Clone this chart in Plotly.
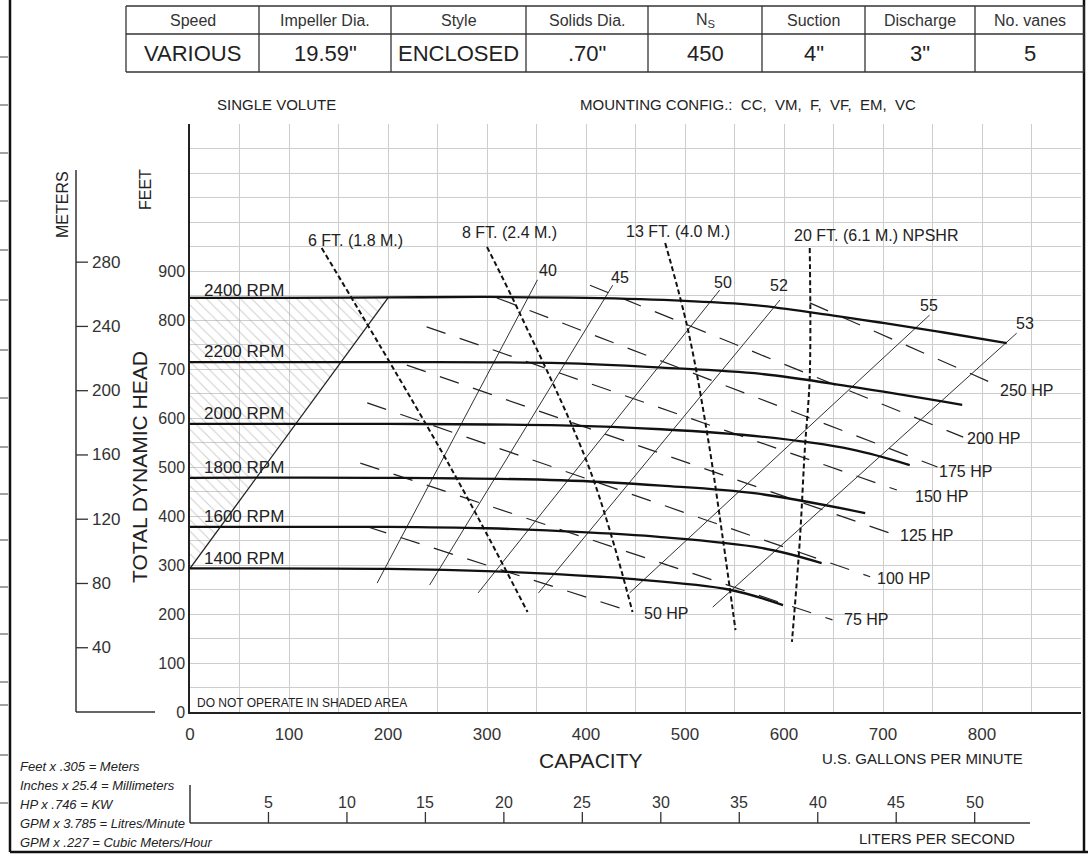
import plotly.graph_objects as go

W, H = 1090, 855
FONT = "Liberation Sans, Arial, sans-serif"


def px(x):
    return x / W


def py(y):
    return 1 - y / H


# ---------------- data ----------------
# Speed (head-capacity) curves: capacity GPM, head FT
q_2400 = [0, 100, 200, 300, 400, 500, 567, 650, 700, 760, 825]
h_2400 = [845, 845, 846, 847, 845, 839, 831, 809, 794, 775, 753]
q_2200 = [0, 200, 375, 476, 577, 668, 780]
h_2200 = [714, 714, 712, 703, 690, 664, 627]
q_2000 = [0, 200, 375, 476, 577, 668, 727]
h_2000 = [588, 588, 585, 577, 562, 536, 504]
q_1800 = [0, 200, 375, 476, 572, 682]
h_1800 = [478, 478, 473, 462, 446, 406]
q_1600 = [0, 200, 300, 375, 476, 577, 638]
h_1600 = [378, 378, 375, 369, 357, 335, 304]
q_1400 = [0, 200, 307, 415, 442, 544, 599]
h_1400 = [293, 292, 287, 276, 272, 250, 218]
speed_labels = ["2400 RPM", "2200 RPM", "2000 RPM", "1800 RPM", "1600 RPM", "1400 RPM"]
speed_label_q = [12, 12, 12, 12, 12, 12]
speed_label_h = [861, 735, 610, 498, 398, 314]

# Minimum-flow line / shaded area
minflow_q = [0, 200]
minflow_h = [293, 845]
shade_q = [0, 0, 200, 0]
shade_h = [293, 845, 845, 293]

# Efficiency lines (%)
eff_labels = ["40", "45", "50", "52", "55", "53"]
eff_q = [[189, 351], [242, 427], [291, 535], [352, 596], [444, 747], [528, 835]]
eff_h = [[263, 882], [259, 871], [243, 861], [243, 841], [243, 810], [214, 773]]
eff_label_q = [362, 434, 538, 595, 746, 843]
eff_label_h = [902, 886, 876, 871, 829, 792]

# Horsepower lines
hp_labels = ["250 HP", "200 HP", "175 HP", "150 HP", "125 HP", "100 HP", "75 HP", "50 HP"]
hp_q = [[626, 815], [404, 781], [310, 755], [239, 714], [219, 707], [179, 687], [172, 649], [179, 447]]
hp_h = [[835, 667], [871, 561], [845, 500], [786, 453], [708, 365], [631, 276], [508, 188], [378, 204]]
hp_label_q = [816, 783, 755, 730, 715, 692, 659, 457]
hp_label_h = [657, 559, 490, 439, 361, 273, 188, 202]

# NPSHR lines
npsh_labels = ["6 FT. (1.8 M.)", "8 FT. (2.4 M.)", "13 FT. (4.0 M.)", "20 FT. (6.1 M.) NPSHR"]
npsh_q = [[133, 263, 341], [300, 333, 404, 447], [480, 503, 523, 538, 551], [626, 626, 621, 616, 608]]
npsh_h = [[947, 500, 204], [949, 814, 494, 204], [957, 780, 561, 357, 167], [947, 684, 535, 351, 143]]
npsh_label_q = [167, 323, 493, 608]
npsh_label_h = [963, 978, 980, 973]

# Axes ticks
gpm_ticks = [0, 100, 200, 300, 400, 500, 600, 700, 800]
feet_ticks = [0, 100, 200, 300, 400, 500, 600, 700, 800, 900]
meter_ticks = [40, 80, 120, 160, 200, 240, 280]
lps_ticks = [5, 10, 15, 20, 25, 30, 35, 40, 45, 50]

# Header table
table_headers = ["Speed", "Impeller Dia.", "Style", "Solids Dia.", "N<sub>S</sub>", "Suction", "Discharge", "No. vanes"]
table_values = ["VARIOUS", '19.59"', "ENCLOSED", '.70"', "450", '4"', '3"', "5"]

notes = ["Feet x .305 = Meters", "Inches x 25.4 = Millimeters", "HP x .746 = KW",
         "GPM x 3.785 = Litres/Minute", "GPM x .227 = Cubic Meters/Hour"]

# ---------------- geometry ----------------
PL, PR, PT, PB = 190, 1081, 124, 712   # plot area in pixels
QMAX, HMAX = 900, 1200
FT_TO_M = 0.305
GPM_TO_LPS = 3.785 / 60.0

fig = go.Figure()

# shaded (do-not-operate) area
fig.add_trace(go.Scatter(
    x=shade_q, y=shade_h, mode="lines", fill="toself",
    line=dict(width=0, color="rgba(0,0,0,0)"),
    fillcolor="rgba(255,255,255,0)",
    fillpattern=dict(shape="\\", fgcolor="#a0a0a0", size=8, solidity=0.13),
    hoverinfo="skip", showlegend=False))

# HP lines
for qs, hs in zip(hp_q, hp_h):
    fig.add_trace(go.Scatter(x=qs, y=hs, mode="lines",
                             line=dict(color="#222", width=1.2, dash="20px,15px"),
                             hoverinfo="skip", showlegend=False))

# efficiency lines
for qs, hs in zip(eff_q, eff_h):
    fig.add_trace(go.Scatter(x=qs, y=hs, mode="lines",
                             line=dict(color="#333", width=1),
                             hoverinfo="skip", showlegend=False))

# min flow line
fig.add_trace(go.Scatter(x=minflow_q, y=minflow_h, mode="lines",
                         line=dict(color="#222", width=1.3),
                         hoverinfo="skip", showlegend=False))

# NPSH lines
for qs, hs in zip(npsh_q, npsh_h):
    fig.add_trace(go.Scatter(x=qs, y=hs, mode="lines", line_shape="spline",
                             line=dict(color="#111", width=2, dash="5px,3px"),
                             hoverinfo="skip", showlegend=False))

# speed curves
for qs, hs in [(q_2400, h_2400), (q_2200, h_2200), (q_2000, h_2000),
               (q_1800, h_1800), (q_1600, h_1600), (q_1400, h_1400)]:
    fig.add_trace(go.Scatter(x=qs, y=hs, mode="lines", line_shape="spline",
                             line=dict(color="#111", width=2.3),
                             hoverinfo="skip", showlegend=False))

GRID = "#cdcdcd"

fig.update_layout(
    width=W, height=H,
    margin=dict(l=0, r=0, t=0, b=0, autoexpand=False),
    paper_bgcolor="white", plot_bgcolor="white",
    font=dict(family=FONT, color="#222"),
    showlegend=False,
    xaxis=dict(domain=[px(PL), px(PR)], range=[0, QMAX], tickvals=gpm_ticks,
               showgrid=True, gridcolor=GRID, gridwidth=1,
               minor=dict(tickmode="linear", tick0=0, dtick=50, showgrid=True,
                          gridcolor=GRID, gridwidth=1),
               showline=True, linecolor="#222", linewidth=1.5, zeroline=False,
               ticks="outside", ticklen=6, tickcolor="rgba(0,0,0,0)",
               automargin=False,
               tickfont=dict(size=17, color="#333")),
    yaxis=dict(domain=[py(PB), py(PT)], range=[0, HMAX], tickvals=feet_ticks,
               showgrid=True, gridcolor=GRID, gridwidth=1,
               minor=dict(tickmode="linear", tick0=0, dtick=50, showgrid=True,
                          gridcolor=GRID, gridwidth=1),
               showline=True, linecolor="#222", linewidth=1.5, zeroline=False,
               ticks="", automargin=False,
               tickfont=dict(size=16, color="#333")),
)

shapes = []


def pline(x0, y0, x1, y1, w=1.5, c="#222"):
    shapes.append(dict(type="line", xref="paper", yref="paper",
                       x0=px(x0), y0=py(y0), x1=px(x1), y1=py(y1),
                       line=dict(color=c, width=w)))


# page frame
pline(10, 0, 10, 852, 2.5, "#111")
pline(10, 852, 1088, 852, 2.5, "#111")
pline(1084, 0, 1084, 852, 2.5, "#111")
for yy in [57, 105, 153, 201, 250, 300, 350, 398, 447, 494, 540, 587, 634, 682, 705, 755, 803]:
    pline(0, yy, 8, yy, 1, "#444")

# meters axis (secondary head scale), ticks placed on the FEET axis scale
pline(76, 170, 76, 712, 1.5, "#333")
pline(76, 712, 155, 712, 1.5, "#333")
for m in meter_ticks:
    shapes.append(dict(type="line", xref="paper", yref="y", x0=px(76), x1=px(88),
                       y0=m / FT_TO_M, y1=m / FT_TO_M, line=dict(color="#333", width=1.3)))

# liters-per-second axis, ticks placed on the GPM axis scale
pline(190, 823, 1030, 823, 1.5, "#333")
pline(190, 785, 190, 823, 1.5, "#333")
for l in lps_ticks:
    shapes.append(dict(type="line", xref="x", yref="paper", x0=l / GPM_TO_LPS,
                       x1=l / GPM_TO_LPS, y0=py(823), y1=py(812),
                       line=dict(color="#333", width=1.3)))

# table
col_x = [126, 259, 391, 526, 648, 762, 865, 975, 1084]
row_y = [6, 34, 72]
for yy in row_y:
    pline(col_x[0], yy, col_x[-1], yy, 1.3, "#333")
for xx in col_x:
    pline(xx, row_y[0], xx, row_y[-1], 1.3, "#333")

fig.update_layout(shapes=shapes)

ann = []


def ptext(x, y, text, size, xanchor="center", angle=0, italic=False, color="#222"):
    ann.append(dict(xref="paper", yref="paper", x=px(x), y=py(y), text=text,
                    showarrow=False, xanchor=xanchor, yanchor="middle",
                    textangle=angle,
                    font=dict(size=size, color=color, family=FONT,
                              style="italic" if italic else "normal")))


def dtext(q, h, text, size, xanchor="center"):
    ann.append(dict(xref="x", yref="y", x=q, y=h, text=text, showarrow=False,
                    xanchor=xanchor, yanchor="middle",
                    font=dict(size=size, color="#222", family=FONT)))


for i in range(len(table_headers)):
    cx = (col_x[i] + col_x[i + 1]) / 2
    ptext(cx, 20, table_headers[i], 16, color="#333")
    ptext(cx, 54, table_values[i], 22, color="#222")

for m in meter_ticks:
    ann.append(dict(xref="paper", yref="y", x=px(90), y=m / FT_TO_M, text=str(m),
                    showarrow=False, xanchor="left", yanchor="middle",
                    font=dict(size=17, color="#333", family=FONT)))
for l in lps_ticks:
    ann.append(dict(xref="x", yref="paper", x=l / GPM_TO_LPS, y=py(802), text=str(l),
                    showarrow=False, xanchor="center", yanchor="middle",
                    font=dict(size=16, color="#333", family=FONT)))

ptext(215, 105, "SINGLE VOLUTE", 15, xanchor="left")
ptext(578, 105, "MOUNTING CONFIG.:  CC,  VM,  F,  VF,  EM,  VC", 15, xanchor="left")
ptext(63, 205, "METERS", 16, angle=-90)
ptext(145, 190, "FEET", 16, angle=-90)
ptext(140, 467, "TOTAL DYNAMIC HEAD", 21, angle=-90)
ptext(195, 703, "DO NOT OPERATE IN SHADED AREA", 12, xanchor="left")
ptext(590, 760, "CAPACITY", 21)
ptext(922, 758, "U.S. GALLONS PER MINUTE", 15)
ptext(937, 838, "LITERS PER SECOND", 15)
for i, t in enumerate(notes):
    ptext(18, 766 + 19 * i, t, 13, xanchor="left", italic=True)

for t, q, h in zip(speed_labels, speed_label_q, speed_label_h):
    dtext(q, h, t, 17, xanchor="left")
for t, q, h in zip(eff_labels, eff_label_q, eff_label_h):
    dtext(q, h, t, 16)
for t, q, h in zip(hp_labels, hp_label_q, hp_label_h):
    dtext(q, h, t, 16, xanchor="left")
for i, (t, q, h) in enumerate(zip(npsh_labels, npsh_label_q, npsh_label_h)):
    dtext(q, h, t, 16, xanchor="left" if i == 3 else "center")

fig.update_layout(annotations=ann)

fig.write_html("out.html", config={"displayModeBar": False},
               post_script="document.body.style.margin='0';")
